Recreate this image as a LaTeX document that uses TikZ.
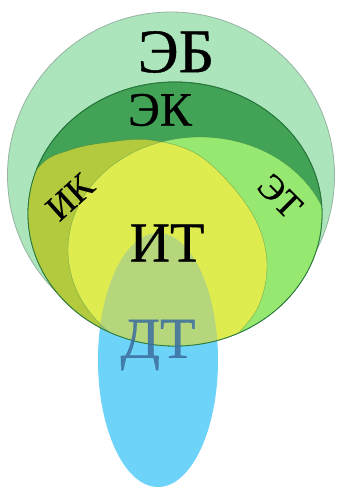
\documentclass[tikz,border=0pt]{standalone}
\usepackage{fontspec}
\setmainfont{Liberation Serif}[FakeBold=0.6]
\definecolor{ebfill}{RGB}{172,228,188}
\definecolor{ebline}{RGB}{150,180,160}
\definecolor{ekfill}{RGB}{66,162,86}
\definecolor{ekline}{RGB}{40,120,60}
\definecolor{ikfill}{RGB}{180,202,62}
\definecolor{etfill}{RGB}{150,232,112}
\definecolor{itfill}{RGB}{222,236,80}
\definecolor{dtfill}{RGB}{109,211,249}
\definecolor{dtover}{RGB}{100,170,215}
\definecolor{dttext}{RGB}{60,110,160}
\tikzset{
  lbl/.style={inner sep=0pt, font=\fontsize{#1}{#1}\selectfont},
  thinedge/.style={ekfill!70!black, line width=0.4pt, opacity=0.5},
}
\def\ikpath{plot[smooth cycle, tension=0.6] coordinates {(5,230) (38,168) (70,150) (110,142) (150,140) (195,153) (232,186) (258,225) (267,265) (259,305) (236,336) (200,372) (100,385) (0,330)}}
\begin{document}
\begin{tikzpicture}[x=1pt,y=-1pt]
\useasboundingbox (0,0) rectangle (337,489);
% DT base (solid blue)
\fill[dtfill] (158,360) ellipse [x radius=60, y radius=127];
% outer circle EB
\draw[ebline, fill=ebfill, line width=0.8pt] (171,175.5) circle [radius=163.5];
% EK ellipse
\draw[ekline, fill=ekfill, line width=0.8pt] (175,214) ellipse [x radius=147, y radius=132];
\begin{scope}
  \clip (175,214) ellipse [x radius=147, y radius=132];
  \fill[ikfill] \ikpath;
  \fill[etfill] (200,250) ellipse [x radius=132, y radius=113];
  \begin{scope}
    \clip \ikpath;
    \fill[itfill] (200,250) ellipse [x radius=132, y radius=113];
  \end{scope}
  \draw[thinedge] \ikpath;
  \draw[thinedge] (200,250) ellipse [x radius=132, y radius=113];
  % DT overlay on the circles
  \fill[dtover, opacity=0.32] (158,360) ellipse [x radius=60, y radius=127];
\end{scope}
\draw[ekline, line width=0.8pt] (175,214) ellipse [x radius=147, y radius=132];
% labels
\node[lbl=62] (EB) at (176,52) {ЭБ};
\node[lbl=48] (EK) at (160,110) {ЭК};
\node[lbl=36, rotate=42] (IK) at (70,197) {ИК};
\node[lbl=36, rotate=-45] (ET) at (280,196) {ЭТ};
\node[lbl=56] (IT) at (167,243) {ИТ};
\node[lbl=58, text=dttext, text opacity=0.85] (DT) at (158,345) {ДТ};
\end{tikzpicture}
\end{document}
